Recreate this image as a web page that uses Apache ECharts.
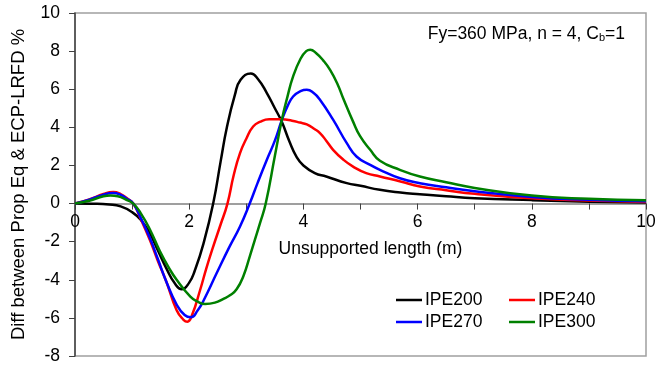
<!DOCTYPE html>
<html><head><meta charset="utf-8">
<script src="https://cdn.jsdelivr.net/npm/echarts@6/dist/echarts.min.js"></script>
<style>html,body{margin:0;padding:0;background:#fff}#c{width:656px;height:365px}</style>
</head><body><div id="c"></div>
<script>
const seriesNames = ['IPE200', 'IPE240', 'IPE270', 'IPE300'];
const xTickLabels = ['0', '2', '4', '6', '8', '10'];
const yTickLabels = ['-8', '-6', '-4', '-2', '0', '2', '4', '6', '8', '10'];

const ipe200X = [0,0.3,0.6,0.8,1.0,1.15,1.3,1.45,1.6,1.75,1.87,2.0,2.1,2.25,2.42,2.55,2.66,2.8,2.9,3.08,3.2,3.36,3.5,3.62,3.75,3.88,4.0,4.2,4.4,4.76,5.0,5.34,5.7,6.04,6.5,7,8,9,10];
const ipe200Y = [0,-0.01,-0.05,-0.15,-0.45,-0.85,-1.5,-2.45,-3.4,-4.2,-4.5,-4.15,-3.5,-2.1,0,2.2,4.0,5.7,6.5,6.82,6.55,5.8,5.0,4.3,3.3,2.45,2.0,1.6,1.42,1.07,0.93,0.72,0.58,0.49,0.38,0.28,0.18,0.1,0.05];

const ipe240X = [0,0.25,0.5,0.67,0.8,0.9,1.02,1.15,1.31,1.45,1.6,1.78,1.9,1.97,2.05,2.19,2.3,2.42,2.55,2.67,2.78,2.89,3.0,3.12,3.25,3.4,3.62,3.8,3.94,4.06,4.2,4.29,4.4,4.52,4.7,4.87,5.1,5.34,5.7,6.04,6.5,7,8,9,10];
const ipe240Y = [0,0.22,0.5,0.6,0.5,0.3,0,-0.8,-1.9,-3.0,-4.1,-5.6,-6.1,-6.2,-5.85,-4.55,-3.4,-2.26,-1.1,0,1.5,2.65,3.4,4.04,4.3,4.42,4.42,4.35,4.25,4.15,3.9,3.7,3.3,2.82,2.3,1.94,1.6,1.42,1.16,0.9,0.7,0.51,0.28,0.16,0.08];

const ipe270X = [0,0.25,0.5,0.67,0.8,0.9,1.02,1.15,1.31,1.45,1.6,1.78,1.92,2.03,2.15,2.25,2.48,2.7,2.89,3.06,3.2,3.36,3.5,3.62,3.72,3.82,3.95,4.06,4.18,4.29,4.52,4.76,4.93,5.17,5.34,5.69,6.04,6.5,7,8,9,10];
const ipe270Y = [0,0.2,0.47,0.55,0.46,0.27,0,-0.75,-1.8,-2.9,-4.1,-5.3,-5.85,-5.97,-5.6,-5.1,-3.66,-2.3,-1.2,0,1.1,2.3,3.3,4.36,5.1,5.62,5.9,5.97,5.8,5.45,4.4,3.17,2.47,2.03,1.77,1.33,1.07,0.85,0.64,0.35,0.2,0.12];

const ipe300X = [0,0.25,0.5,0.62,0.75,0.9,1.02,1.15,1.31,1.49,1.65,1.78,2.02,2.15,2.28,2.45,2.6,2.72,2.83,2.95,3.06,3.15,3.24,3.34,3.5,3.62,3.72,3.82,3.95,4.05,4.12,4.22,4.35,4.47,4.6,4.7,4.87,4.99,5.17,5.34,5.69,6.04,6.5,7,8,9,10];
const ipe300Y = [0,0.15,0.38,0.42,0.38,0.2,0,-0.5,-1.35,-2.52,-3.4,-4.0,-4.88,-5.15,-5.27,-5.2,-5.0,-4.8,-4.5,-3.8,-2.78,-1.9,-1.03,0,2.5,4.36,5.6,6.67,7.6,8.0,8.07,7.9,7.5,7.0,6.25,5.5,4.3,3.55,2.82,2.25,1.77,1.42,1.12,0.82,0.42,0.25,0.18];

const colors = ['#000000', '#ff0000', '#0000ff', '#008000'];
const xs = [ipe200X, ipe240X, ipe270X, ipe300X];
const ys = [ipe200Y, ipe240Y, ipe270Y, ipe300Y];

const FONT = '"Liberation Sans", Arial, sans-serif';
const FS = 17.5;
const GRID_TOP = 13, GRID_BOTTOM = 9, H = 365;
const Y_MIN = -8, Y_MAX = 10;
const plotH = H - GRID_TOP - GRID_BOTTOM;
const zeroOffset = -plotH * (0 - Y_MIN) / (Y_MAX - Y_MIN);

const chart = echarts.init(document.getElementById('c'), null, {renderer: 'canvas'});
const series = seriesNames.map((n, i) => ({
  name: n, type: 'line', symbol: 'none', showSymbol: false, smooth: 0.5,
  lineStyle: {color: colors[i], width: 2.5}, itemStyle: {color: colors[i]},
  data: xs[i].map((x, k) => [x, ys[i][k]])
}));

const legendCommon = {
  orient: 'vertical', top: 291, padding: 0,
  icon: 'rect', itemWidth: 26, itemHeight: 2.5, itemGap: 4,
  textStyle: {fontSize: FS, color: '#000', fontFamily: FONT, padding: [0, 0, 0, -2]}
};

chart.setOption({
  animation: false,
  textStyle: {fontFamily: FONT},
  grid: {left: 75, right: 10, top: GRID_TOP, bottom: GRID_BOTTOM, show: true, borderColor: '#a0a0a0', borderWidth: 1.5,
    containLabel: false, outerBoundsMode: 'none'},
  xAxis: {
    type: 'value', min: 0, max: 10, interval: 1, position: 'bottom', offset: zeroOffset,
    name: 'Unsupported length (m)', nameLocation: 'middle', nameGap: 37,
    nameTextStyle: {fontSize: FS, color: '#000', fontFamily: FONT, padding: [0, 0, 0, 20]},
    axisLine: {onZero: false, lineStyle: {color: '#808080', width: 1.5}},
    axisTick: {show: true, inside: false, length: 6, lineStyle: {color: '#404040', width: 1}},
    axisLabel: {margin: 10, fontSize: FS, color: '#000', fontFamily: FONT, hideOverlap: false,
      formatter: v => { const s = String(v); return xTickLabels.indexOf(s) >= 0 ? s : ''; }},
    splitLine: {show: false}
  },
  yAxis: {
    type: 'value', min: Y_MIN, max: Y_MAX, interval: 2,
    name: 'Diff between Prop Eq & ECP-LRFD %', nameLocation: 'middle', nameGap: 47,
    nameTextStyle: {fontSize: 18.5, color: '#000', fontFamily: FONT},
    axisLine: {show: true, onZero: false, lineStyle: {color: '#404040', width: 1.5}},
    axisTick: {show: true, inside: false, length: 6, lineStyle: {color: '#404040', width: 1}},
    axisLabel: {margin: 15, fontSize: FS, color: '#000', fontFamily: FONT,
      formatter: v => { const s = String(v); return yTickLabels.indexOf(s) >= 0 ? s : ''; }},
    splitLine: {show: false}
  },
  legend: [
    Object.assign({data: [seriesNames[0], seriesNames[2]], left: 396}, legendCommon),
    Object.assign({data: [seriesNames[1], seriesNames[3]], left: 509}, legendCommon)
  ],
  graphic: [{
    type: 'text', right: 31, top: 25,
    style: {
      text: '{a|Fy=360 MPa, n = 4, C}{s|b}{a|=1}',
      rich: {
        a: {fontSize: FS, fontFamily: FONT, fill: '#000', color: '#000'},
        s: {fontSize: 11, fontFamily: FONT, fill: '#000', color: '#000', verticalAlign: 'bottom', padding: [8, 0, 0, 0]}
      }
    }
  }],
  series: series
});
</script>
</body></html>
